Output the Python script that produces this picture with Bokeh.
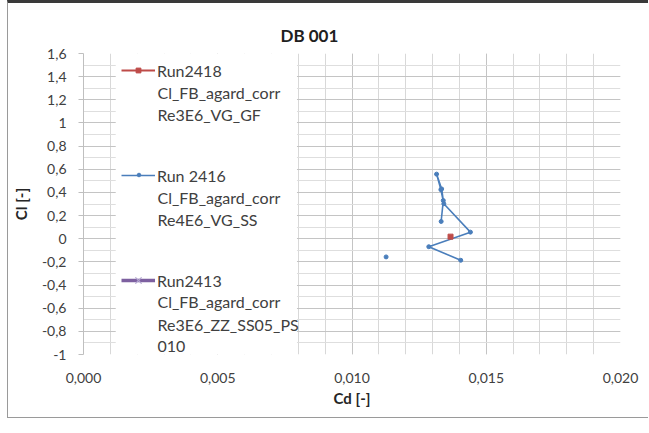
from bokeh.plotting import figure
from bokeh.models import (Range1d, FixedTicker, CustomJSTickFormatter, BoxAnnotation,
                          Legend, LegendItem, Label)
from bokeh.embed import file_html
from bokeh.resources import INLINE

nan = float("nan")

# Run 2416 (blue) - isolated point, gap, then polar sweep
run2416_cd = [0.01127, nan, 0.01405, 0.01286, 0.01441, 0.01342, 0.01331, 0.01315, 0.01334, 0.01340, 0.01332]
run2416_cl = [-0.157, nan, -0.186, -0.069, 0.057, 0.302, 0.424, 0.558, 0.430, 0.330, 0.149]
# Run2418 (red)
run2418_cd = [0.01367]
run2418_cl = [0.018]
# Run2413 (purple) - no visible data
run2413_cd = [nan]
run2413_cl = [nan]

legend_labels = [
    ["Run2418", "Cl_FB_agard_corr", "Re3E6_VG_GF"],
    ["Run 2416", "Cl_FB_agard_corr", "Re4E6_VG_SS"],
    ["Run2413", "Cl_FB_agard_corr", "Re3E6_ZZ_SS05_PS", "010"],
]

x_ticks = [0.0, 0.005, 0.010, 0.015, 0.020]
x_minor = [i / 1000 for i in range(21)]
y_ticks = [-1.0, -0.8, -0.6, -0.4, -0.2, 0.0, 0.2, 0.4, 0.6, 0.8, 1.0, 1.2, 1.4, 1.6]
y_minor = [round(-1.0 + i * 0.1, 1) for i in range(27)]

FONT = "Lato"
TXT = "#404040"

p = figure(width=641, height=418, x_range=Range1d(0, 0.020), y_range=Range1d(-1.0, 1.6),
           output_backend="svg", toolbar_location=None,
           min_border_left=72, min_border_right=29, min_border_top=50, min_border_bottom=67)
p.styles = {"margin-left": "7px", "border-left": "1px solid #9a9a9a",
            "border-top": "3px solid #3a3a3a", "border-bottom": "1px solid #9a9a9a"}
p.outline_line_color = None
p.background_fill_color = "white"
p.border_fill_color = "white"

p.title.text = "DB 001"
p.title.align = "left"
p.title.offset = 197
p.title.text_font = FONT
p.title.text_font_size = "17px"
p.title.text_font_style = "bold"
p.title.text_color = "#202020"
p.title.standoff = 16

# axes
p.xaxis.ticker = FixedTicker(ticks=x_ticks, minor_ticks=x_minor)
p.yaxis.ticker = FixedTicker(ticks=y_ticks, minor_ticks=y_minor)
p.xaxis.formatter = CustomJSTickFormatter(code="return tick.toFixed(3).replace('.', ',');")
p.yaxis.formatter = CustomJSTickFormatter(code="return (Math.round(tick*10)/10).toString().replace('.', ',');")
for ax in (p.xaxis, p.yaxis):
    ax.major_label_text_font = FONT
    ax.major_label_text_font_size = "14px"
    ax.major_label_text_color = TXT
    ax.axis_label_text_font = FONT
    ax.axis_label_text_font_size = "15px"
    ax.axis_label_text_font_style = "bold"
    ax.axis_label_text_color = "#262626"
    ax.minor_tick_line_color = None
p.xaxis.axis_label = "Cd [-]"
p.yaxis.axis_label = "Cl [-]"
p.xaxis.axis_line_color = None
p.xaxis.major_tick_line_color = None
p.xaxis.major_label_standoff = 12
p.xaxis.axis_label_standoff = 3
p.yaxis.axis_line_color = "#bfbfbf"
p.yaxis.major_tick_line_color = "#bfbfbf"
p.yaxis.major_tick_out = 5
p.yaxis.major_tick_in = 0
p.yaxis.major_label_standoff = 12
p.yaxis.axis_label_standoff = 9

p.xgrid.grid_line_color = "#c4c4c4"
p.xgrid.minor_grid_line_color = "#d8d8d8"
p.ygrid.grid_line_color = "#c4c4c4"
p.ygrid.minor_grid_line_color = "#dedede"

# series
BLUE = "#4a7ebb"
RED = "#be4b48"
PURPLE = "#7d60a0"
r16l = p.line(run2416_cd, run2416_cl, line_color=BLUE, line_width=1.6)
r16m = p.scatter(run2416_cd, run2416_cl, marker="circle", size=4, fill_color=BLUE, line_color=BLUE)
r18l = p.line(run2418_cd, run2418_cl, line_color=RED, line_width=1.8)
r18m = p.scatter(run2418_cd, run2418_cl, marker="square", size=5, fill_color=RED, line_color=RED)
r13l = p.line(run2413_cd, run2413_cl, line_color=PURPLE, line_width=3.5)
r13m = p.scatter(run2413_cd, run2413_cl, marker="x", size=10, line_color="#b3a6d0", line_width=1.3)

# legend background (hides gridlines)
p.add_layout(BoxAnnotation(left=0.0012, right=0.00795, fill_color="white", fill_alpha=1.0,
                           line_alpha=0, level="annotation"))

legend = Legend(items=[
    LegendItem(label=legend_labels[0][0], renderers=[r18l]),
    LegendItem(label=legend_labels[1][0], renderers=[r16l]),
    LegendItem(label=legend_labels[2][0], renderers=[r13l, r13m]),
], location=(38, 63), padding=0, margin=0, spacing=83, glyph_width=34, glyph_height=22,
   label_height=22, label_standoff=2, label_text_font=FONT, label_text_font_size="16px",
   label_text_color=TXT, background_fill_alpha=0, border_line_alpha=0)
p.add_layout(legend)

# small legend markers (legend marker size follows glyph box size)
for rend, g, loc in [(r18m, 12, (49, 278)), (r16m, 9, (51, 175))]:
    p.add_layout(Legend(items=[LegendItem(label=" ", renderers=[rend])], location=loc,
                        padding=0, margin=0, glyph_width=g, glyph_height=g, label_height=g,
                        label_standoff=0, label_text_font_size="1px",
                        background_fill_alpha=0, border_line_alpha=0))

# continuation lines of legend labels (frame-relative screen y)
extra_y = [[262, 240], [157, 135], [53, 30, 8]]
for labels, ys in zip(legend_labels, extra_y):
    for txt, yy in zip(labels[1:], ys):
        p.add_layout(Label(x=74, y=yy, x_units="screen", y_units="screen", text=txt,
                           text_baseline="middle", text_font=FONT, text_font_size="16px",
                           text_color=TXT))

open("out.html", "w").write(file_html(p, INLINE))
